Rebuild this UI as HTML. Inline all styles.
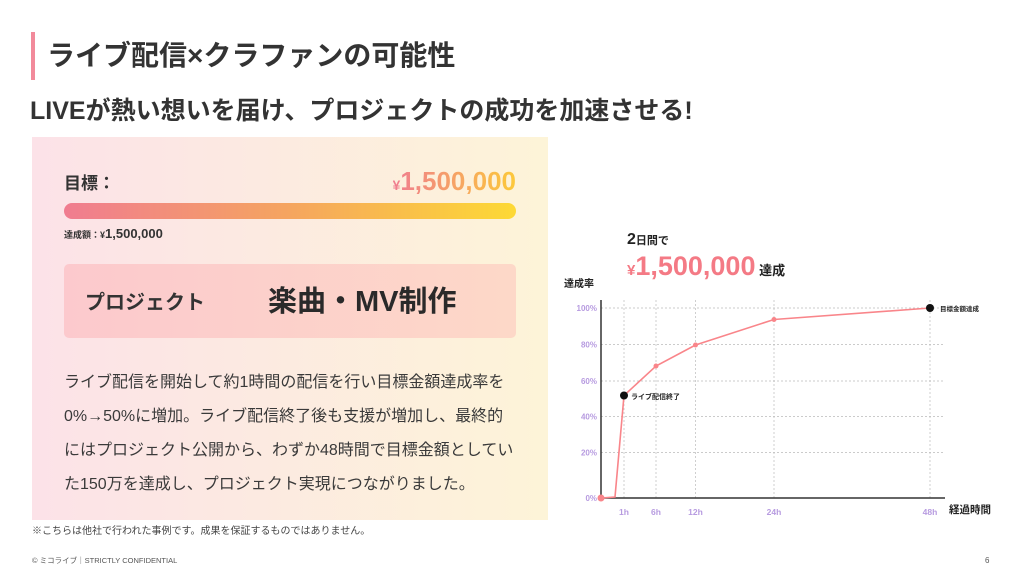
<!DOCTYPE html>
<html><head><meta charset="utf-8"><style>
body{margin:0;width:1024px;height:576px;background:#fff;position:relative;overflow:hidden;font-family:"Liberation Sans","Noto Sans CJK JP",sans-serif;color:#333}
.a{position:absolute;white-space:nowrap}
</style></head><body>
<div class="a" style="left:31px;top:32px;width:4px;height:48px;background:#f28a9b"></div>
<div class="a" style="left:47px;top:37px;font-size:28px;font-weight:bold;line-height:38px;color:#333">ライブ配信×クラファンの可能性</div>
<div class="a" style="left:30px;top:93px;font-size:25px;font-weight:bold;line-height:36px;color:#333">LIVEが熱い想いを届け、プロジェクトの成功を加速させる!</div>
<div class="a" style="left:32px;top:137px;width:516px;height:383px;background:linear-gradient(90deg,#fce2e8,#fdf4d8)"></div>
<div class="a" style="left:64px;top:172px;font-size:17px;font-weight:bold;line-height:24px">目標：</div>
<div class="a" style="right:508px;top:165px;font-size:26px;font-weight:bold;line-height:32px;background:linear-gradient(90deg,#f07c90,#fcc93a);-webkit-background-clip:text;color:transparent"><span style="font-size:14px">¥</span>1,500,000</div>
<div class="a" style="left:64px;top:203px;width:452px;height:16px;border-radius:8px;background:linear-gradient(90deg,#f07c90,#f5a55f,#fdd935)"></div>
<div class="a" style="left:64px;top:226px;font-size:9px;font-weight:bold;line-height:16px">達成額：¥<span style="font-size:13px">1,500,000</span></div>
<div class="a" style="left:64px;top:264px;width:452px;height:74px;border-radius:5px;background:linear-gradient(90deg,#fcc9cd,#fdd8c8)"></div>
<div class="a" style="left:85px;top:289px;font-size:20px;font-weight:bold;line-height:28px">プロジェクト</div>
<div class="a" style="left:268px;top:282px;font-size:29px;font-weight:bold;line-height:40px;color:#2a2a2a">楽曲・MV制作</div>
<div class="a" style="left:64px;top:366px;font-size:16px;line-height:34px;color:#3a3a3a">ライブ配信を開始して約1時間の配信を行い目標金額達成率を<br>0%→50%に増加。ライブ配信終了後も支援が増加し、最終的<br>にはプロジェクト公開から、わずか48時間で目標金額としてい<br>た150万を達成し、プロジェクト実現につながりました。</div>
<div class="a" style="left:32px;top:525px;font-size:10px;line-height:14px;color:#444">※こちらは他社で行われた事例です。成果を保証するものではありません。</div>
<div class="a" style="left:32px;top:555px;font-size:7.5px;line-height:12px;color:#555">© ミコライブ｜STRICTLY CONFIDENTIAL</div>
<div class="a" style="left:985px;top:555px;font-size:8px;line-height:12px;color:#555">6</div>
<div class="a" style="left:627px;top:230px;font-size:11px;font-weight:bold;line-height:20px;color:#222"><span style="font-size:16px">2</span>日間で</div>
<div class="a" style="left:627px;top:249px;font-size:27px;font-weight:bold;line-height:34px;color:#f47a85"><span style="font-size:15px">¥</span>1,500,000<span style="font-size:13px;color:#222"> 達成</span></div>
<div class="a" style="left:564px;top:278px;font-size:10px;font-weight:bold;line-height:14px;color:#222">達成率</div>
<div class="a" style="left:949px;top:503px;font-size:10.5px;font-weight:bold;line-height:14px;color:#222">経過時間</div>
<svg class="a" style="left:0;top:0" width="1024" height="576">
<g stroke="#bbb" stroke-width="0.7" stroke-dasharray="2,2" fill="none">
<line x1="601" y1="308" x2="945" y2="308"/><line x1="601" y1="344.5" x2="945" y2="344.5"/><line x1="601" y1="381" x2="945" y2="381"/><line x1="601" y1="416.5" x2="945" y2="416.5"/><line x1="601" y1="452.5" x2="945" y2="452.5"/>
<line x1="624" y1="300" x2="624" y2="498"/><line x1="656" y1="300" x2="656" y2="498"/><line x1="695.5" y1="300" x2="695.5" y2="498"/><line x1="774" y1="300" x2="774" y2="498"/><line x1="930" y1="300" x2="930" y2="498"/>
</g>
<line x1="601" y1="300" x2="601" y2="499" stroke="#333" stroke-width="1.5"/>
<line x1="601" y1="498" x2="945" y2="498" stroke="#333" stroke-width="1.5"/>
<g font-size="8" font-weight="bold" fill="#b79be0" text-anchor="end" font-family="Liberation Sans,sans-serif">
<text x="597" y="311">100%</text><text x="597" y="347.5">80%</text><text x="597" y="384">60%</text><text x="597" y="419.5">40%</text><text x="597" y="455.5">20%</text><text x="597" y="501">0%</text>
</g>
<g font-size="8.5" font-weight="bold" fill="#b79be0" text-anchor="middle" font-family="Liberation Sans,sans-serif">
<text x="624" y="515">1h</text><text x="656" y="515">6h</text><text x="695.5" y="515">12h</text><text x="774" y="515">24h</text><text x="930" y="515">48h</text>
</g>
<polyline points="601,498 615,497 624,395.5 656,366 695.5,345 774,319.5 930,308" fill="none" stroke="#f9858a" stroke-width="1.6"/>
<g fill="#f9858a"><circle cx="601" cy="498" r="3.5"/><circle cx="656" cy="366" r="2.5"/><circle cx="695.5" cy="345" r="2.5"/><circle cx="774" cy="319.5" r="2.5"/></g>
<circle cx="624" cy="395.5" r="4" fill="#111"/><circle cx="930" cy="308" r="4" fill="#111"/>
<text x="631" y="399" font-size="7" font-weight="bold" fill="#222" font-family="Liberation Sans,Noto Sans CJK JP,sans-serif">ライブ配信終了</text>
<text x="940" y="311" font-size="6.5" font-weight="bold" fill="#222" font-family="Liberation Sans,Noto Sans CJK JP,sans-serif">目標金額達成</text>
</svg>
</body></html>
